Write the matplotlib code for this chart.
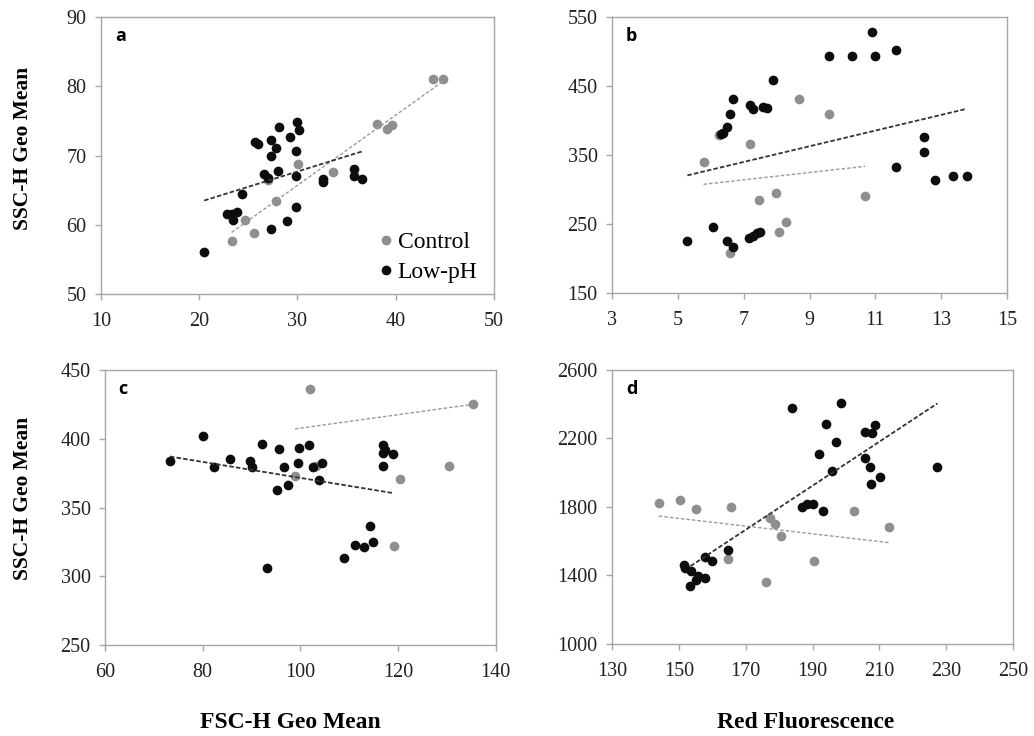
import matplotlib
matplotlib.use('Agg')
import matplotlib.pyplot as plt

# panel a: SSC-H vs FSC-H geo mean
a_ctrl_x = [43.8, 44.8, 38.1, 39.1, 39.6, 30.1, 33.6, 27.0, 27.8, 24.7, 25.6, 23.3]
a_ctrl_y = [81.1, 81.1, 74.5, 73.8, 74.4, 68.8, 67.6, 66.4, 63.5, 60.7, 58.8, 57.7]
a_lowph_x = [20.5, 22.8, 23.3, 23.8, 23.4, 24.4, 25.7, 26.0, 27.3, 27.8, 27.3, 28.1, 29.2, 30.0,
             30.2, 29.8, 26.6, 27.0, 28.0, 29.8, 32.6, 32.6, 35.8, 35.8, 36.6, 29.8, 28.9, 27.3]
a_lowph_y = [56.0, 61.6, 61.5, 61.8, 60.7, 64.4, 71.9, 71.7, 72.3, 71.1, 70.0, 74.1, 72.7, 74.9,
             73.7, 70.6, 67.4, 66.8, 67.8, 67.0, 66.2, 66.6, 68.0, 67.0, 66.6, 62.5, 60.6, 59.4]
a_ctrl_trend = ([23.3, 44.8], [58.9, 80.7])
a_lowph_trend = ([20.5, 36.6], [63.5, 70.6])

# panel b: SSC-H vs red fluorescence
b_ctrl_x = [5.78, 6.26, 7.19, 6.57, 7.47, 7.97, 8.08, 8.30, 8.67, 9.58, 10.69]
b_ctrl_y = [340, 379, 366, 208, 285, 295, 239, 253, 431, 409, 291]
b_lowph_x = [5.29, 6.08, 6.48, 6.69, 7.17, 7.27, 7.39, 7.49, 6.30, 6.36, 6.48, 6.57, 6.69, 7.19,
             7.27, 7.58, 7.70, 7.90, 9.60, 10.28, 10.91, 10.99, 11.62, 11.62, 12.47, 12.47,
             12.80, 13.37, 13.78]
b_lowph_y = [226, 245, 226, 216, 229, 233, 237, 238, 381, 382, 391, 409, 431, 422,
             417, 420, 418, 459, 494, 494, 528, 494, 502, 333, 376, 354,
             314, 320, 320]
b_ctrl_trend = ([5.78, 10.69], [307.5, 333.6])
b_lowph_trend = ([5.29, 13.78], [320.5, 417])

# panel c: SSC-H vs FSC-H geo mean
c_ctrl_x = [102.0, 135.4, 98.9, 103.2, 120.4, 130.4, 119.1]
c_ctrl_y = [436, 425, 373, 380, 371, 380, 322]
c_lowph_x = [73.3, 80.0, 82.4, 85.6, 89.7, 90.0, 92.2, 95.6, 96.6, 95.3, 97.5, 99.7, 99.5, 101.7,
             102.5, 104.5, 103.9, 117.0, 117.3, 117.0, 119.0, 117.0, 114.2, 111.2, 113.1, 114.8,
             109.0, 93.1]
c_lowph_y = [383.5, 402, 379.4, 385.4, 384, 379.4, 396.3, 392.4, 379.4, 362.7, 366.6, 393.4, 382.3, 395.3,
             379.4, 382.3, 369.7, 395.6, 392, 390, 389.3, 380.3, 336.3, 323, 321.1, 325.2,
             313.1, 306.1]
c_ctrl_trend = ([98.9, 135.4], [407.2, 425.1])
c_lowph_trend = ([73.3, 119.0], [387.1, 360.5])

# panel d: SSC-H vs red fluorescence
d_ctrl_x = [144.0, 150.4, 155.2, 165.5, 177.2, 178.9, 180.5, 164.7, 176.0, 190.3, 202.4, 212.8]
d_ctrl_y = [1825, 1841, 1786, 1802, 1738, 1699, 1633, 1496, 1364, 1483, 1777, 1681]
d_lowph_x = [183.9, 198.4, 193.9, 197.1, 191.9, 205.7, 207.9, 208.7, 205.7, 207.1, 227.4, 195.9,
             210.3, 207.4, 186.9, 188.4, 190.0, 193.1, 164.7, 157.9, 159.8, 151.6, 151.7, 153.7,
             155.8, 155.0, 157.7, 153.2]
d_lowph_y = [2380, 2405, 2286, 2181, 2111, 2240, 2230, 2279, 2088, 2032, 2032, 2008,
             1977, 1936, 1800, 1817, 1817, 1777, 1547, 1510, 1483, 1461, 1442, 1428,
             1397, 1372, 1385, 1339]
d_ctrl_trend = ([144.0, 212.8], [1747, 1592])
d_lowph_trend = ([153.5, 227.4], [1455, 2405])

GRAY = '#8f8f8f'
BLACK = '#0d0d0d'
SPINE = '#a6a6a6'
SERIF = 'Liberation Serif'


def draw_panel(ax, letter, ctrl, lowph, ctrl_trend, lowph_trend, xlim, xticks, ylim, yticks):
    ax.plot(ctrl[0], ctrl[1], 'o', color=GRAY, markersize=7.0, markeredgewidth=0, label='Control')
    ax.plot(lowph[0], lowph[1], 'o', color=BLACK, markersize=7.0, markeredgewidth=0, label='Low-pH')
    ax.plot(ctrl_trend[0], ctrl_trend[1], color='#9a9a9a', linewidth=1.0, dashes=(2.5, 1.5))
    ax.plot(lowph_trend[0], lowph_trend[1], color='#333333', linewidth=1.3, dashes=(2.5, 1.2))
    ax.set_xlim(xlim)
    ax.set_ylim(ylim)
    ax.set_xticks(xticks)
    ax.set_yticks(yticks)
    for s in ax.spines.values():
        s.set_color(SPINE)
        s.set_linewidth(1.0)
    ax.tick_params(direction='out', length=4.3, width=1.0, color=SPINE,
                   labelsize=14.5, labelcolor='#222222')
    ax.tick_params(axis='x', pad=8.5)
    ax.tick_params(axis='y', pad=6)
    for lab in ax.get_xticklabels() + ax.get_yticklabels():
        lab.set_fontfamily(SERIF)
    ax.text(0.035, 0.965, letter, transform=ax.transAxes, ha='left', va='top',
            fontsize=13, fontweight='bold', family='Open Sans')


fig = plt.figure(figsize=(10.34, 7.36), dpi=100)
ax_a = fig.add_axes([0.0977, 0.6005, 0.380, 0.3764])
ax_b = fig.add_axes([0.5919, 0.6019, 0.382, 0.375])
ax_c = fig.add_axes([0.1015, 0.1236, 0.378, 0.3736])
ax_d = fig.add_axes([0.5919, 0.125, 0.3878, 0.3723])

draw_panel(ax_a, 'a', (a_ctrl_x, a_ctrl_y), (a_lowph_x, a_lowph_y), a_ctrl_trend, a_lowph_trend,
           (10, 50), range(10, 51, 10), (50, 90), range(50, 91, 10))
draw_panel(ax_b, 'b', (b_ctrl_x, b_ctrl_y), (b_lowph_x, b_lowph_y), b_ctrl_trend, b_lowph_trend,
           (3, 15), range(3, 16, 2), (150, 550), range(150, 551, 100))
draw_panel(ax_c, 'c', (c_ctrl_x, c_ctrl_y), (c_lowph_x, c_lowph_y), c_ctrl_trend, c_lowph_trend,
           (60, 140), range(60, 141, 20), (250, 450), range(250, 451, 50))
draw_panel(ax_d, 'd', (d_ctrl_x, d_ctrl_y), (d_lowph_x, d_lowph_y), d_ctrl_trend, d_lowph_trend,
           (130, 250), range(130, 251, 20), (1000, 2600), range(1000, 2601, 400))

ax_a.legend(loc='lower right', bbox_to_anchor=(1.0, -0.02), frameon=False,
            prop={'family': SERIF, 'size': 17}, handletextpad=0.0, labelspacing=0.35,
            handlelength=1.0, borderaxespad=0.3)

fig.text(23 / 1034, 1 - 148 / 736, 'SSC-H Geo Mean', rotation=90, ha='center', va='center',
         fontsize=15.5, fontweight='bold', family=SERIF)
fig.text(23 / 1034, 1 - 498 / 736, 'SSC-H Geo Mean', rotation=90, ha='center', va='center',
         fontsize=15.5, fontweight='bold', family=SERIF)
fig.text(290 / 1034, 1 - 722 / 736, 'FSC-H Geo Mean', ha='center', va='center',
         fontsize=17, fontweight='bold', family=SERIF)
fig.text(806 / 1034, 1 - 722 / 736, 'Red Fluorescence', ha='center', va='center',
         fontsize=17, fontweight='bold', family=SERIF)

plt.savefig('out.png', dpi=100)
